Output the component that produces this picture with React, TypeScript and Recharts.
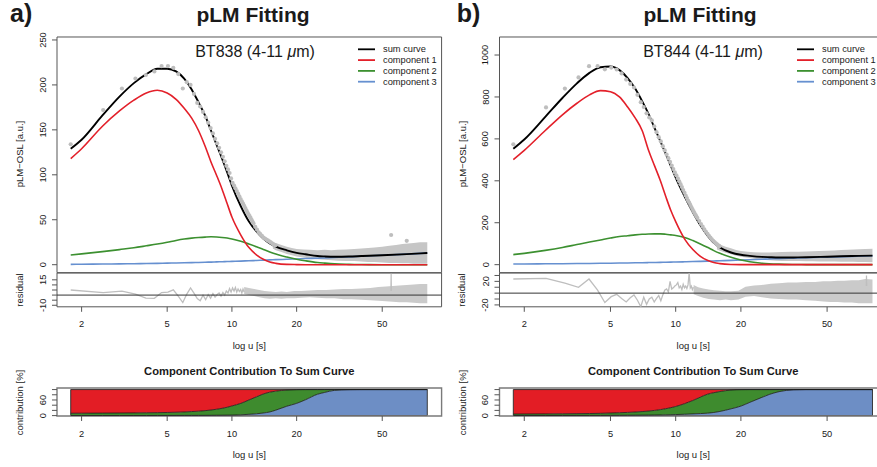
import React from "react";
import {
  Area,
  ComposedChart,
  Line,
  ReferenceArea,
  ReferenceLine,
  Scatter,
  XAxis,
  YAxis,
} from "recharts";

const FONT = '"Liberation Sans", Arial, Helvetica, sans-serif';
const TEXT = "#1a1a1a";
const FRAME = "#555555";
const FRAME_LIGHT = "#7a7a7a";
const GREY = "#BEBEBE";
const GREY_BAND = "#C6C6C6";
const GREY_RES_BAND = "#CACACA";

const COL_SUM = "#000000";
const COL_C1 = "#E3202A";
const COL_C2 = "#3C9030";
const COL_C3 = "#6690D0";
const FILL_C1 = "#E31D25";
const FILL_C2 = "#3E8B2E";
const FILL_C3 = "#6D8EC5";

// log u axis, same for every plot
const X_DOMAIN: [number, number] = [1.537, 94.4];
const X_TICKS = [2, 5, 10, 20, 50];

// vertical layout in page pixels
const MAIN_TOP = 37;
const MAIN_BOTTOM = 272.7;
const RES_BOTTOM = 306.5;
const CON_TOP = 387.7;
const CON_BOTTOM = 415.7;

// ---- fitted curves (u grid) ----
const U_FIT = [1.78, 2, 2.5, 3, 3.5, 4, 4.5, 5, 5.5, 6, 6.5, 7, 7.5, 8, 8.5, 9, 9.5, 10, 11, 12, 13, 14, 15, 16, 18, 20, 22, 25, 27, 30, 35, 40, 50, 65, 81];

const A_SUM = [129, 139, 166, 187, 202, 212, 218, 218, 215, 207, 195, 180.5, 166, 149, 133, 118, 103, 88, 65, 48, 37, 29, 23.5, 20, 16, 13.2, 11.6, 9.6, 9.2, 8.9, 9.1, 9.6, 10.5, 11.8, 13];
const A_C1 = [118, 129, 154, 171, 183, 191, 194, 191, 184, 174, 163, 149, 132, 114, 99, 84, 68, 53, 33, 19, 11, 6, 3, 1.5, 0.3, 0.1, 0, 0, 0, 0, 0, 0, 0, 0, 0];
const A_C2 = [10.8, 12, 14.5, 16.8, 18.8, 21, 23, 25, 27, 28.5, 29.5, 30.2, 30.7, 31, 30.8, 30.3, 29.6, 28.6, 26, 23, 20, 17, 14.2, 11.8, 8.5, 6, 4.3, 2.4, 1.7, 0.9, 0.4, 0.15, 0, 0, 0];
const A_C3 = [0.4, 0.5, 0.7, 0.9, 1.1, 1.3, 1.5, 1.7, 1.9, 2.1, 2.3, 2.5, 2.7, 2.9, 3.1, 3.3, 3.5, 3.7, 4, 4.4, 4.7, 5, 5.3, 5.6, 6, 6.4, 6.8, 7.2, 7.5, 8, 8.7, 9.4, 10.5, 11.8, 13];

const B_SUM = [553, 597, 705, 795, 865, 915, 942, 945, 928, 890, 840, 780, 718, 650, 588, 528, 470, 415, 325, 250, 188, 140, 104, 82, 58, 47, 42, 37, 35.5, 34, 34.5, 35.5, 38, 41, 43];
const B_C1 = [501, 545, 640, 715, 770, 810, 830, 825, 800, 752, 700, 640, 545, 470, 400, 325, 258, 205, 122, 72, 40, 21, 10, 5, 1, 0.2, 0, 0, 0, 0, 0, 0, 0, 0, 0];
const B_C2 = [48, 54, 68, 82, 96, 108, 118, 127, 134, 138, 142, 145, 146.5, 147, 147, 145, 142, 139, 130, 115, 99, 83, 67, 54, 35, 22, 14, 7, 4.5, 2.5, 1, 0.3, 0, 0, 0];
const B_C3 = [3, 3.3, 4, 4.6, 5.2, 5.8, 6.4, 7, 7.6, 8.2, 8.8, 9.4, 10, 10.5, 11, 11.6, 12.1, 12.6, 13.7, 14.8, 15.8, 16.8, 17.8, 18.7, 20.5, 22.2, 23.7, 25.8, 27, 29, 31, 33, 36, 39.5, 42.5];

// ---- contribution plot: cumulative shares [%] ----
const A_SHARE_C3 = [0.2, 0.2, 0.3, 0.3, 0.4, 0.4, 0.5, 0.5, 0.6, 0.7, 0.8, 0.9, 1, 1.2, 1.4, 1.6, 1.8, 2, 3, 5, 7, 10, 14, 21, 36, 47, 61, 82, 89, 97, 99.5, 100, 100, 100, 100];
const A_SHARE_C23 = [9, 9.2, 9.6, 10, 10.4, 10.8, 11.3, 12, 13, 14, 15.5, 17, 19, 21.5, 24.5, 28, 32, 37, 47, 60, 72, 83, 90, 94, 98, 99.5, 100, 100, 100, 100, 100, 100, 100, 100, 100];
const B_SHARE_C3 = [0.3, 0.3, 0.4, 0.5, 0.6, 0.7, 0.8, 1, 1.2, 1.4, 1.6, 1.8, 2, 2.3, 2.6, 3, 3.4, 4, 5.2, 6.6, 7.8, 9.3, 12, 16, 26, 36.5, 51, 70, 81, 92, 99, 100, 100, 100, 100];
const B_SHARE_C23 = [6, 6.2, 6.6, 7, 7.5, 8, 8.8, 10, 11, 12.3, 13.8, 15.5, 17.5, 20, 23, 26.5, 30.5, 35, 46, 58, 71, 82, 88, 92.5, 98, 99.7, 100, 100, 100, 100, 100, 100, 100, 100, 100];

// ---- measured pLM points (distinct part) ----
const PT_U = [1.78, 2.52, 3.08, 3.56, 3.98, 4.36, 4.71, 5.04, 5.34, 5.63, 5.91, 6.17, 6.42, 6.66, 6.9, 7.12, 7.34, 7.55, 7.76, 7.96, 8.16, 8.35, 8.54, 8.72, 8.9, 9.08, 9.25, 9.42, 9.59, 9.75, 9.91, 10.07, 10.23, 10.38, 10.53, 10.68, 10.83, 10.98, 11.12, 11.26, 11.4, 11.54, 11.68, 11.81, 11.94, 12.08, 12.21, 12.34, 12.46, 12.59, 12.84, 13.08, 13.32, 13.56, 13.79, 14.02, 14.24, 14.46, 14.68, 14.9, 15.11, 15.32, 15.52, 15.72, 15.92];
const PT_A = [134, 172, 196, 207, 211, 215, 221, 221, 219, 212, 196, 203, 200, 190, 180, 176, 170, 164, 158, 152, 146, 140, 135, 130, 125, 120, 115, 110, 106, 102, 96, 91, 88, 85, 82, 79, 76, 73, 70.5, 68, 65.5, 63, 60.5, 58, 56, 54, 52, 50, 48, 46, 42, 39, 36, 34, 32, 30, 29, 28, 27, 26, 25, 24, 23, 22, 21.5];
const PT_B = [574, 750, 840, 893, 947, 947, 932, 940, 931, 912, 883, 862, 845, 810, 775, 752, 722, 702, 688, 660, 632, 608, 588, 565, 545, 525, 508, 490, 472, 456, 440, 426, 412, 398, 384, 370, 356, 343, 330, 318, 306, 296, 285, 275, 265, 255, 246, 238, 230, 222, 208, 194, 181, 168, 157, 147, 138, 129, 121, 114, 108, 102, 97, 92, 88];
const OUT_U_A = [55, 65];
const OUT_A = [33, 26.5];

// dense noisy tail of the points, as a lower/upper envelope
const BAND_U = [15.5, 16, 17, 18, 19, 20, 21.5, 23, 25, 27, 29, 31, 34, 37, 40, 43, 46, 50, 54, 58, 62, 66, 70, 75, 81];
const BAND_A_LO = [18, 16, 14, 12, 10.5, 9, 8, 7, 6, 5.5, 5, 4.5, 4, 4, 3.5, 3, 3, 2.5, 2, 2, 1.5, 1.5, 1, 1, 1];
const BAND_A_HI = [25, 24, 22, 20, 18.5, 17.5, 17, 16.5, 16, 16.5, 16, 16.5, 17, 17.5, 18, 18.5, 19, 20, 21, 22, 23, 23.5, 24, 25, 25];
const BAND_B_LO = [72, 66, 57, 50, 43, 38, 33, 28, 24, 21, 19, 18, 17, 17, 16, 16, 15.5, 15, 14.5, 14, 14, 13.5, 13, 12.5, 12];
const BAND_B_HI = [102, 96, 86, 78, 70, 65, 61, 59, 58, 58, 59, 60, 61, 62, 63, 64, 65, 66, 68, 70, 71, 72, 73, 75, 76];

// ---- residuals ----
const RES_A = [5, 2.5, 3.8, 1, -3, -3.2, 2.5, 3, 5.2, -1, -7.3, 1, 7, 2, -3.5, -5.5, 0, -4.5, 0.5, -3, 1.5, -2, 0.5, 2, -1, 2.5, 0, 4, 2, 6.5, 3, 7, 4, 7.5, 3, 6, 3.5, 5.5, 2, 6, 3];
const RES_B = [24, 25, 17, 10, 24, 5, -16, -6, -2, -9, -15, -8, -3, -12, -23, -7, -19, -10, -7, -15, -9, -4, -13, -3, 5, 7, 2, 20, 7, 9, 12, 14, 18, 9, 12, 6, 15, 9, 12, 8, 14, 34, 9, 12, 6, 10];
const RB_U_A = [11.4, 12, 12.7, 13.4, 14.2, 15, 16, 17, 18, 19.5, 21, 23, 25, 27.5, 30, 33, 36, 40, 44, 48, 52, 56, 60, 65, 70, 75, 81];
const RB_A_LO = [1, 0, -1, -2, -3, -3.5, -3, -3.5, -3, -3, -2.5, -2, -2.5, -3, -3, -4, -4, -4.5, -5, -5.5, -6, -6.5, -7, -7, -7.5, -8, -8];
const RB_A_HI = [8, 7, 6, 5, 4, 3.5, 3, 3.5, 3, 4, 4, 4.5, 5, 5, 5.5, 6, 6, 6.5, 7, 8, 8.5, 9, 9.5, 10, 10.5, 11, 11];
const RB_U_B = [12.1, 12.7, 13.4, 14.2, 15, 16, 17, 18, 19.5, 21, 23, 25, 27.5, 30, 33, 36, 40, 44, 48, 52, 56, 60, 65, 70, 75, 81];
const RB_B_LO = [-2, -5, -8, -10, -11, -12, -11, -12, -11, -6, -5, -7, -9, -10, -11, -11, -12, -13, -14, -15, -15, -16, -16, -17, -17, -17];
const RB_B_HI = [14, 10, 8, 6, 5, 4, 3, 3, 4, 11, 13, 14, 16, 17, 18, 18, 19, 19, 20, 20, 21, 21, 22, 22, 24, 23];
const SPIKE_U_A = [54.85, 55, 55.15];
const SPIKE_A = [4, 21, 4];
const SPIKE_U_B = [75.8, 76, 76.2];
const SPIKE_B = [12, 30, 12];

const LEGEND_NAMES = ["sum curve", "component 1", "component 2", "component 3"];
const LEGEND_COLORS = [COL_SUM, COL_C1, COL_C2, COL_C3];

type XY = { u: number; y: number | number[] };

const xy = (u: number[], y: number[]): XY[] => u.map((v, i) => ({ u: v, y: y[i] }));
const range = (u: number[], lo: number[], hi: number[]): XY[] =>
  u.map((v, i) => ({ u: v, y: [lo[i], hi[i]] }));
const constLo = (n: number[], v: number) => n.map(() => v);

type PanelDef = {
  letter: string;
  sample: string;
  x0: number;
  plotLeft: number;
  plotRight: number;
  letterX: number;
  titleX: number;
  sampleX: number;
  legendX: number;
  mainDomain: [number, number];
  mainTicks: number[];
  resDomain: [number, number];
  resTicks: number[];
  resLabels: number[];
  sum: number[];
  c1: number[];
  c2: number[];
  c3: number[];
  points: number[];
  outU: number[];
  outY: number[];
  bandLo: number[];
  bandHi: number[];
  res: number[];
  rbU: number[];
  rbLo: number[];
  rbHi: number[];
  spikeU: number[];
  spike: number[];
  share3: number[];
  share23: number[];
};

const PANELS: PanelDef[] = [
  {
    letter: "a)",
    sample: "BT838",
    x0: 0,
    plotLeft: 57,
    plotRight: 441.6,
    letterX: 10,
    titleX: 253,
    sampleX: 255,
    legendX: 358,
    mainDomain: [-8.9, 253.3],
    mainTicks: [0, 50, 100, 150, 200, 250],
    resDomain: [-11.5, 21.7],
    resTicks: [-10, -5, 0, 5, 10, 15],
    resLabels: [15, -10],
    sum: A_SUM,
    c1: A_C1,
    c2: A_C2,
    c3: A_C3,
    points: PT_A,
    outU: OUT_U_A,
    outY: OUT_A,
    bandLo: BAND_A_LO,
    bandHi: BAND_A_HI,
    res: RES_A,
    rbU: RB_U_A,
    rbLo: RB_A_LO,
    rbHi: RB_A_HI,
    spikeU: SPIKE_U_A,
    spike: SPIKE_A,
    share3: A_SHARE_C3,
    share23: A_SHARE_C23,
  },
  {
    letter: "b)",
    sample: "BT844",
    x0: 440,
    plotLeft: 499.5,
    plotRight: 886.9,
    letterX: 456.7,
    titleX: 700,
    sampleX: 703,
    legendX: 797,
    mainDomain: [-38.3, 1086],
    mainTicks: [0, 200, 400, 600, 800, 1000],
    resDomain: [-23.2, 34.2],
    resTicks: [-20, -10, 0, 10, 20, 30],
    resLabels: [20, -20],
    sum: B_SUM,
    c1: B_C1,
    c2: B_C2,
    c3: B_C3,
    points: PT_B,
    outU: [],
    outY: [],
    bandLo: BAND_B_LO,
    bandHi: BAND_B_HI,
    res: RES_B,
    rbU: RB_U_B,
    rbLo: RB_B_LO,
    rbHi: RB_B_HI,
    spikeU: SPIKE_U_B,
    spike: SPIKE_B,
    share3: B_SHARE_C3,
    share23: B_SHARE_C23,
  },
];

function makeRotTick(show?: number[]) {
  return function RotTick(props: any) {
    const { x, y, payload } = props;
    if (show && !show.includes(payload.value)) return <g />;
    return (
      <text
        x={x}
        y={y}
        transform={`rotate(-90 ${x} ${y})`}
        textAnchor="middle"
        dominantBaseline="central"
        fontSize={9.3}
        fill={TEXT}
        fontFamily={FONT}
      >
        {payload.value}
      </text>
    );
  };
}

const greyDot = (props: any) => <circle cx={props.cx} cy={props.cy} r={2.1} fill={GREY} />;

const xTick = { fontSize: 9.3, fill: TEXT, fontFamily: FONT };

function MainPlot({ p }: { p: PanelDef }) {
  const width = p.plotRight - p.x0 + 6;
  const curveLine = (data: number[], color: string, w: number) => (
    <Line
      data={xy(U_FIT, data)}
      dataKey="y"
      type="monotone"
      stroke={color}
      strokeWidth={w}
      dot={false}
      activeDot={false}
      isAnimationActive={false}
    />
  );
  return (
    <div style={{ position: "absolute", left: p.x0, top: 0 }}>
      <ComposedChart width={width} height={MAIN_BOTTOM + 6} margin={{ top: MAIN_TOP, right: 6, bottom: 6, left: 0 }}>
        <XAxis type="number" dataKey="u" scale="log" domain={X_DOMAIN} allowDataOverflow hide />
        <YAxis
          type="number"
          dataKey="y"
          domain={p.mainDomain}
          allowDataOverflow
          ticks={p.mainTicks}
          interval={0}
          width={p.plotLeft - p.x0}
          axisLine={false}
          tickLine={{ stroke: FRAME }}
          tickSize={5}
          tickMargin={9}
          tick={makeRotTick()}
        />
        <Area
          data={range(BAND_U, p.bandLo, p.bandHi)}
          dataKey="y"
          type="linear"
          fill={GREY_BAND}
          fillOpacity={1}
          stroke="none"
          isAnimationActive={false}
        />
        <Scatter data={xy(PT_U, p.points)} shape={greyDot} isAnimationActive={false} />
        <Scatter data={xy(p.outU, p.outY)} shape={greyDot} isAnimationActive={false} />
        {curveLine(p.c3, COL_C3, 1.6)}
        {curveLine(p.c2, COL_C2, 1.6)}
        {curveLine(p.c1, COL_C1, 1.6)}
        {curveLine(p.sum, COL_SUM, 1.9)}
        <ReferenceArea
          x1={X_DOMAIN[0]}
          x2={X_DOMAIN[1]}
          y1={p.mainDomain[0]}
          y2={p.mainDomain[1]}
          fill="none"
          stroke={FRAME}
          strokeWidth={1}
          ifOverflow="visible"
        />
      </ComposedChart>
    </div>
  );
}

function ResidualPlot({ p }: { p: PanelDef }) {
  const width = p.plotRight - p.x0 + 6;
  const pad = 10;
  const axisH = 40;
  return (
    <div style={{ position: "absolute", left: p.x0, top: MAIN_BOTTOM - pad }}>
      <ComposedChart
        width={width}
        height={pad + (RES_BOTTOM - MAIN_BOTTOM) + axisH}
        margin={{ top: pad, right: 6, bottom: 0, left: 0 }}
      >
        <XAxis
          type="number"
          dataKey="u"
          scale="log"
          domain={X_DOMAIN}
          allowDataOverflow
          ticks={X_TICKS}
          interval={0}
          height={axisH}
          axisLine={false}
          tickLine={{ stroke: FRAME }}
          tickSize={5}
          tickMargin={8.5}
          tick={xTick}
        />
        <YAxis
          type="number"
          dataKey="y"
          domain={p.resDomain}
          allowDataOverflow
          ticks={p.resTicks}
          interval={0}
          width={p.plotLeft - p.x0}
          axisLine={false}
          tickLine={{ stroke: FRAME }}
          tickSize={5}
          tickMargin={9}
          tick={makeRotTick(p.resLabels)}
        />
        <Area
          data={range(p.rbU, p.rbLo, p.rbHi)}
          dataKey="y"
          type="linear"
          fill={GREY_RES_BAND}
          fillOpacity={1}
          stroke="none"
          isAnimationActive={false}
        />
        <Line
          data={xy(PT_U.slice(0, p.res.length), p.res)}
          dataKey="y"
          type="linear"
          stroke={GREY}
          strokeWidth={1.3}
          dot={false}
          activeDot={false}
          isAnimationActive={false}
        />
        <Line
          data={xy(p.spikeU, p.spike)}
          dataKey="y"
          type="linear"
          stroke={GREY}
          strokeWidth={1.2}
          dot={false}
          activeDot={false}
          isAnimationActive={false}
        />
        <ReferenceLine y={0} stroke="#333333" strokeWidth={1} />
        <ReferenceArea
          x1={X_DOMAIN[0]}
          x2={X_DOMAIN[1]}
          y1={p.resDomain[0]}
          y2={p.resDomain[1]}
          fill="none"
          stroke={FRAME}
          strokeWidth={1}
          ifOverflow="visible"
        />
      </ComposedChart>
    </div>
  );
}

function ContributionPlot({ p }: { p: PanelDef }) {
  const width = p.plotRight - p.x0 + 6;
  const pad = 10;
  const axisH = 40;
  const hundred = constLo(U_FIT, 100);
  const zero = constLo(U_FIT, 0);
  const boundary = (data: number[]) => (
    <Line
      data={xy(U_FIT, data)}
      dataKey="y"
      type="monotone"
      stroke="#1a1a1a"
      strokeWidth={0.8}
      dot={false}
      activeDot={false}
      isAnimationActive={false}
    />
  );
  const fill = (lo: number[], hi: number[], color: string) => (
    <Area
      data={range(U_FIT, lo, hi)}
      dataKey="y"
      type="monotone"
      fill={color}
      fillOpacity={1}
      stroke="none"
      isAnimationActive={false}
    />
  );
  return (
    <div style={{ position: "absolute", left: p.x0, top: CON_TOP - pad }}>
      <ComposedChart
        width={width}
        height={pad + (CON_BOTTOM - CON_TOP) + axisH}
        margin={{ top: pad, right: 6, bottom: 0, left: 0 }}
      >
        <XAxis
          type="number"
          dataKey="u"
          scale="log"
          domain={X_DOMAIN}
          allowDataOverflow
          ticks={X_TICKS}
          interval={0}
          height={axisH}
          axisLine={false}
          tickLine={{ stroke: FRAME }}
          tickSize={5}
          tickMargin={9}
          tick={xTick}
        />
        <YAxis
          type="number"
          dataKey="y"
          domain={[-1.5, 106]}
          allowDataOverflow
          ticks={[0, 20, 40, 60, 80, 100]}
          interval={0}
          width={p.plotLeft - p.x0}
          axisLine={false}
          tickLine={{ stroke: FRAME }}
          tickSize={5}
          tickMargin={9}
          tick={makeRotTick([0, 60])}
        />
        {fill(zero, p.share3, FILL_C3)}
        {fill(p.share3, p.share23, FILL_C2)}
        {fill(p.share23, hundred, FILL_C1)}
        {boundary(p.share3)}
        {boundary(p.share23)}
        <ReferenceArea
          x1={U_FIT[0]}
          x2={U_FIT[U_FIT.length - 1]}
          y1={0}
          y2={100}
          fill="none"
          stroke="#2a2a2a"
          strokeWidth={0.9}
          ifOverflow="visible"
        />
        <ReferenceArea
          x1={X_DOMAIN[0]}
          x2={X_DOMAIN[1]}
          y1={-1.5}
          y2={106}
          fill="none"
          stroke={FRAME_LIGHT}
          strokeWidth={1.4}
          ifOverflow="visible"
        />
      </ComposedChart>
    </div>
  );
}

function VText({ x, y, text }: { x: number; y: number; text: string }) {
  return (
    <text
      x={x}
      y={y}
      transform={`rotate(-90 ${x} ${y})`}
      textAnchor="middle"
      dominantBaseline="central"
      fontSize={9.5}
      fill={TEXT}
    >
      {text}
    </text>
  );
}

function PanelText({ p }: { p: PanelDef }) {
  const cx = (p.plotLeft + p.plotRight) / 2;
  const yTitleX = p.plotLeft - 37.5;
  return (
    <g fill={TEXT}>
      <text x={p.letterX} y={21.7} fontSize={25} fontWeight="bold">
        {p.letter}
      </text>
      <text x={p.titleX} y={21.7} fontSize={21} fontWeight="bold" textAnchor="middle">
        pLM Fitting
      </text>
      <text x={p.sampleX} y={56.7} fontSize={16} textAnchor="middle">
        {p.sample} (4-11 <tspan fontStyle="italic">μ</tspan>m)
      </text>
      {LEGEND_NAMES.map((name, i) => {
        const cy = 49.3 + i * 10.8;
        return (
          <g key={name}>
            <line x1={p.legendX} x2={p.legendX + 17} y1={cy} y2={cy} stroke={LEGEND_COLORS[i]} strokeWidth={1.8} />
            <text x={p.legendX + 25} y={cy} fontSize={9.3} dominantBaseline="central">
              {name}
            </text>
          </g>
        );
      })}
      <VText x={yTitleX} y={154} text="pLM−OSL [a.u.]" />
      <VText x={yTitleX - 0.5} y={290} text="residual" />
      <VText x={yTitleX} y={402.5} text="contribution [%]" />
      <text x={cx} y={349} fontSize={9.5} textAnchor="middle">
        log u [s]
      </text>
      <text x={cx} y={375} fontSize={11.2} fontWeight="bold" textAnchor="middle">
        Component Contribution To Sum Curve
      </text>
      <text x={cx} y={457.7} fontSize={9.5} textAnchor="middle">
        log u [s]
      </text>
    </g>
  );
}

export default function App() {
  return (
    <div
      style={{
        position: "absolute",
        left: 0,
        top: 0,
        width: 877,
        height: 467,
        overflow: "hidden",
        background: "#ffffff",
        fontFamily: FONT,
      }}
    >
      {PANELS.map((p) => (
        <React.Fragment key={p.letter}>
          <MainPlot p={p} />
          <ResidualPlot p={p} />
          <ContributionPlot p={p} />
        </React.Fragment>
      ))}
      <svg
        width={877}
        height={467}
        style={{ position: "absolute", left: 0, top: 0, pointerEvents: "none" }}
        fontFamily={FONT}
      >
        {PANELS.map((p) => (
          <PanelText key={p.letter} p={p} />
        ))}
      </svg>
    </div>
  );
}
